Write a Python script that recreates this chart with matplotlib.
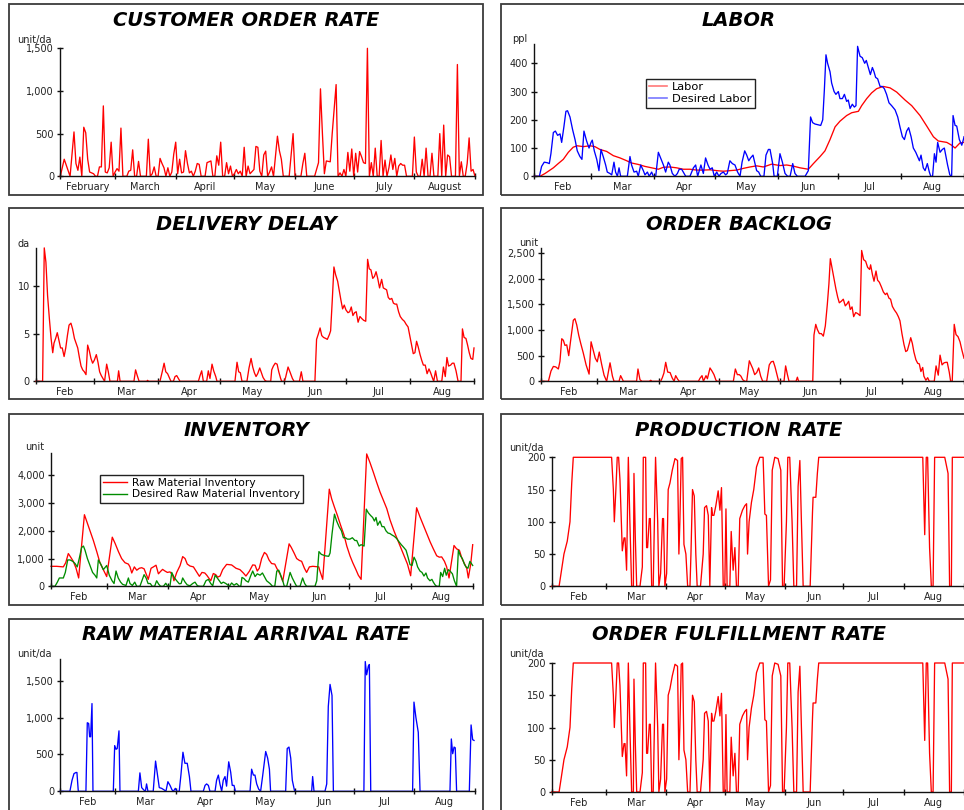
import matplotlib
matplotlib.use("Agg")
import matplotlib.pyplot as plt
from matplotlib.lines import Line2D
from matplotlib.patches import Rectangle
from matplotlib.ticker import FixedLocator, FuncFormatter, NullFormatter

W, H = 964, 810

# time axis in days, day 0 = Feb 1, day 212 = end of Aug 31
month_edges = [0, 28, 59, 89, 120, 150, 181, 212]
month_long = ["February", "March", "April", "May", "June", "July", "August"]
month_short = ["Feb", "Mar", "Apr", "May", "Jun", "Jul", "Aug"]

# (day, value) pairs for every series
customer_orders = [
    (0, 0), (2, 200), (5, 0), (7, 520), (8, 150), (9, 70), (10, 225), (11, 0), (12, 575), (13, 510),
    (14, 200), (15, 50), (17, 30), (18, 0), (19, 0), (20, 110), (21, 110), (22, 825), (23, 50), (24, 40),
    (25, 100), (26, 400), (27, 0), (28, 50), (29, 90), (30, 60), (31, 565), (32, 0), (34, 0), (35, 60),
    (36, 70), (37, 310), (38, 0), (39, 0), (40, 175), (41, 0), (44, 0), (45, 435), (46, 0), (47, 30),
    (48, 110), (49, 0), (50, 0), (51, 210), (52, 150), (53, 100), (54, 0), (55, 100), (56, 0), (57, 50),
    (58, 260), (59, 400), (60, 30), (61, 200), (62, 40), (63, 50), (64, 300), (65, 150), (66, 40), (67, 60),
    (68, 0), (69, 60), (70, 150), (71, 140), (72, 0), (74, 0), (75, 160), (77, 180), (78, 0), (79, 0),
    (80, 240), (81, 130), (82, 400), (83, 0), (84, 0), (85, 160), (86, 30), (87, 120), (88, 0), (89, 30),
    (90, 80), (91, 30), (92, 60), (93, 0), (94, 340), (95, 0), (96, 120), (97, 30), (99, 80), (100, 350),
    (101, 340), (102, 60), (103, 0), (104, 250), (105, 295), (106, 0), (107, 50), (108, 110), (109, 0),
    (111, 470), (112, 300), (113, 200), (114, 0), (117, 0), (119, 500), (120, 0), (123, 0), (124, 150),
    (125, 270), (126, 0), (130, 0), (132, 160), (133, 1025), (134, 500), (135, 30), (136, 180), (138, 170),
    (139, 500), (141, 1075), (142, 0), (143, 40), (144, 0), (145, 80), (146, 0), (147, 280), (148, 60),
    (149, 320), (150, 0), (151, 270), (152, 50), (153, 290), (154, 230), (155, 160), (156, 150), (157, 1500),
    (158, 0), (159, 160), (160, 0), (161, 330), (162, 0), (163, 0), (164, 420), (165, 0), (166, 190),
    (167, 0), (168, 100), (169, 250), (170, 80), (171, 210), (172, 0), (173, 120), (174, 150), (175, 130),
    (176, 130), (177, 0), (180, 0), (181, 460), (182, 50), (183, 0), (184, 0), (185, 200), (186, 0),
    (187, 330), (188, 0), (189, 0), (190, 270), (191, 0), (193, 0), (194, 500), (195, 0), (196, 600),
    (197, 0), (198, 250), (199, 230), (200, 0), (202, 0), (203, 1310), (204, 0), (205, 170), (206, 0),
    (207, 0), (208, 150), (209, 450), (210, 60), (211, 80), (212, 0),
]

labor = [
    (0, 0), (2.8, 0), (5.3, 10), (9.4, 30), (11.8, 45), (14.3, 60), (16.8, 85), (19.2, 103), (21.2, 108),
    (24.2, 105), (27.5, 108), (29.9, 105), (32.4, 95), (35.7, 88), (39, 73), (42.3, 65), (45.6, 55),
    (48, 47), (51.3, 42), (54.6, 35), (57.9, 30), (61.2, 25), (63.7, 32), (66.9, 33), (70.2, 30),
    (73.5, 25), (76.8, 25), (80.1, 22), (83.4, 22), (86.7, 23), (90, 20), (93.3, 18), (96.5, 20),
    (99.8, 22), (103.1, 28), (106.4, 33), (109.7, 37), (113, 33), (117.1, 43), (121.2, 38), (124.5, 40),
    (127.8, 36), (131.1, 30), (135.2, 25), (137.7, 45), (141, 70), (143.4, 90), (145.9, 130), (148.4, 175),
    (150.8, 195), (154.1, 215), (156.6, 225), (159.9, 230), (161.5, 250), (164, 275), (166.4, 295),
    (168.9, 310), (172.2, 318), (175.5, 313), (178.8, 298), (182.9, 270), (186.2, 250), (190.3, 215),
    (193.6, 178), (196.9, 140), (199.3, 125), (203.5, 120), (205.9, 110), (207.6, 100), (210, 118),
    (212, 120),
]

desired_labor = [
    (0, 0), (2.5, 0), (3.6, 35), (4.9, 50), (6.4, 48), (7.4, 45), (8.2, 80), (9.4, 155), (10.4, 160),
    (11.5, 145), (12.7, 150), (13.5, 120), (14.6, 175), (15.6, 230), (16.4, 232), (17.6, 210), (18.9, 165),
    (20.1, 130), (21.2, 90), (22.5, 70), (23.5, 60), (24.5, 160), (25.8, 125), (27, 100), (28, 120),
    (28.6, 128), (29.6, 90), (30.8, 60), (31.9, 20), (32.9, 95), (34, 70), (35.2, 40), (36, 15), (37.3, 10),
    (38.2, 5), (39.3, 50), (40.1, 15), (41, 0), (41.8, 30), (42.6, 0), (45.9, 0), (47.2, 70), (48, 40),
    (49.2, 15), (50.5, 18), (51.3, 0), (52.5, 40), (53.8, 20), (54.6, 5), (55.8, 15), (56.7, 0), (57.9, 15),
    (58.7, 0), (59.9, 0), (61.2, 85), (62.3, 65), (63.7, 40), (64.8, 15), (66.1, 50), (66.9, 40), (68.1, 10),
    (69.4, 0), (70.6, 10), (71.5, 25), (72.7, 25), (73.5, 15), (74.7, 0), (76.8, 0), (78.5, 30), (79.6, 40),
    (80.6, 0), (82.2, 40), (83.4, 10), (84.5, 65), (85.7, 40), (86.7, 25), (87.8, 30), (88.8, 0), (90, 15),
    (91.1, 0), (92.1, 10), (93.3, 15), (94.4, 5), (95.2, 10), (96.5, 55), (97.7, 45), (99, 40), (100.3, 15),
    (101.5, 0), (102.5, 50), (103.8, 90), (104.8, 75), (105.8, 55), (106.7, 65), (107.9, 75), (108.9, 45),
    (109.7, 20), (110.7, 15), (111.7, 0), (113.3, 0), (114.3, 75), (115.5, 95), (116.3, 95), (117.6, 45),
    (118.3, 0), (119.9, 0), (121.2, 80), (122.4, 50), (123.7, 10), (125, 0), (126.2, 0), (127.5, 45),
    (128.6, 10), (129.8, 0), (133.6, 0), (135.2, 20), (136.3, 210), (137.3, 190), (138.5, 185), (140.1, 182),
    (141.3, 180), (142.3, 200), (143.1, 305), (143.9, 430), (144.7, 400), (145.9, 370), (146.7, 330),
    (147.9, 300), (148.8, 290), (150, 300), (150.8, 275), (152, 275), (153, 290), (154.1, 265), (154.9, 270),
    (155.8, 240), (156.9, 255), (157.9, 245), (158.7, 250), (159.5, 460), (160.7, 425), (161.8, 420),
    (163, 400), (163.8, 410), (164.8, 385), (165.8, 360), (166.8, 385), (167.6, 370), (168.4, 350),
    (169.4, 345), (170.6, 318), (171.7, 318), (172.7, 310), (173.8, 290), (175, 260), (176.3, 250),
    (178, 235), (179.3, 210), (180.4, 175), (181.6, 140), (182.6, 130), (183.7, 160), (184.7, 172),
    (185.9, 140), (187, 100), (188.2, 85), (189.1, 70), (190, 55), (190.8, 75), (191.9, 30), (192.8, 20),
    (193.9, 45), (194.9, 15), (195.6, 0), (196.5, 0), (197.4, 80), (198.2, 50), (199, 120), (200.2, 85),
    (201.3, 95), (202.3, 100), (203.1, 70), (203.9, 40), (205, 5), (205.9, 0), (206.6, 215), (207.6, 180),
    (208.4, 178), (209.7, 130), (210.9, 110), (211.7, 130), (212, 140),
]

delivery_delay = [
    (0, 0), (3.2, 0), (4, 14), (4.8, 12.5), (5.6, 9), (6.5, 6.5), (7.3, 4.5), (8.1, 3), (8.7, 4), (9.5, 4.5),
    (10.3, 5.1), (11.1, 4.3), (11.9, 3.5), (12.7, 3.5), (13.6, 2.6), (14.4, 3.5), (15.2, 4.8), (16, 5.9),
    (16.9, 6.1), (17.7, 5.5), (18.6, 4.5), (19.4, 4), (20.2, 3.5), (21, 2.5), (21.8, 1.6), (22.6, 1.2),
    (23.4, 1), (24.2, 0.7), (25, 3.8), (25.8, 3.2), (26.6, 2.4), (27.4, 1.9), (28.2, 2.2), (29.2, 2.8),
    (30, 2), (30.8, 1), (31.6, 0.6), (32.4, 0.3), (33.2, 0), (34.2, 1.8), (35, 1), (35.8, 0), (39.4, 0),
    (40, 1.1), (40.7, 0), (47.4, 0), (48.2, 1.2), (49, 0.6), (49.9, 0), (53.6, 0), (54, 0.1), (54.5, 0),
    (60, 0), (61.1, 1), (62, 1.9), (62.8, 1), (63.7, 0.8), (64.5, 0.4), (65.3, 0), (66.5, 0), (67.3, 0.5),
    (68.1, 0.6), (68.9, 0.3), (69.7, 0), (78.6, 0), (79.4, 0.6), (80.2, 1.1), (81, 0), (82.6, 0), (83.4, 1.1),
    (84.2, 0.3), (85.2, 1.8), (86, 1.1), (87, 0.5), (87.6, 0), (96.3, 0), (97.3, 2), (98.1, 1), (98.9, 0.9),
    (99.7, 0), (102.1, 0), (103.1, 1.4), (104.1, 2.4), (104.9, 1.5), (105.7, 0.9), (106.5, 0.5), (107.3, 0.8),
    (108.3, 1.4), (109.1, 0.9), (109.9, 0.4), (110.8, 0.1), (111.6, 0), (113.6, 0), (114.1, 1.2),
    (114.9, 1.6), (115.8, 1.9), (116.7, 1.8), (117.5, 1), (118.4, 0.3), (118.9, 0), (120.2, 0), (120.8, 0.4),
    (122, 1.5), (122.9, 1), (124.1, 0.3), (124.9, 0), (127.5, 0), (128.4, 1), (129.2, 0), (135, 0),
    (135.8, 4.4), (136.7, 5), (137.5, 5.6), (138.3, 4.8), (139.2, 4.6), (140.2, 4.5), (141, 4.4), (142, 4.9),
    (142.6, 5.3), (143.4, 8.5), (144.2, 12), (145, 11.2), (146, 10.5), (146.8, 9.5), (147.6, 8.5),
    (148.4, 7.6), (149.2, 8), (150, 7.5), (151, 7.2), (151.8, 7.3), (152.6, 7.8), (153.4, 6.9), (154.2, 7.2),
    (155, 7.3), (155.9, 6.2), (156.8, 6.8), (157.6, 6.6), (158.6, 6.4), (159.6, 6.3), (160.5, 12.8),
    (161.3, 11.8), (162.1, 11.7), (163, 10.8), (163.8, 11), (164.6, 11.5), (165.4, 10.8), (166.3, 9.8),
    (167.3, 10.7), (168.1, 9.8), (168.9, 9.7), (169.7, 9.6), (170.5, 8.8), (171.3, 8.6), (172.2, 8.7),
    (173, 8.2), (173.8, 8.1), (174.6, 8.1), (175.5, 7.3), (176.3, 6.8), (177.3, 6.5), (178.3, 6.3),
    (179.1, 6), (180.1, 5.7), (180.9, 4.8), (181.8, 3.8), (182.6, 2.9), (183.4, 3), (184.2, 4.2), (185, 3.6),
    (185.9, 2.8), (186.7, 2.2), (187.5, 1.7), (188.4, 1.7), (189.3, 0.8), (190.2, 1.3), (191, 0.9),
    (191.8, 0.4), (192.5, 0), (193.4, 1.1), (194.3, 0), (196.4, 0), (197.2, 1.5), (198.1, 0.5), (198.9, 2.5),
    (199.7, 1.6), (200.7, 1.7), (201.5, 1.9), (202.3, 1.9), (203.3, 1.1), (204.3, 0), (205.7, 0),
    (206.4, 5.5), (207.2, 4.6), (208.1, 4.5), (208.9, 3.8), (209.7, 3), (210.5, 2.4), (211.4, 2.3),
    (212, 3.5),
]

order_backlog = [
    (0, 0), (3.7, 0), (5, 200), (6.2, 290), (7.4, 280), (8.7, 240), (9.5, 390), (10.4, 830), (11.2, 800),
    (12, 700), (12.9, 710), (13.9, 500), (14.9, 810), (16.2, 1190), (17, 1220), (17.9, 1100), (18.9, 900),
    (19.9, 740), (21.2, 550), (22.6, 320), (24.1, 140), (25.1, 770), (26.2, 600), (27.2, 450), (28.2, 380),
    (29.2, 570), (30.4, 330), (31.6, 120), (32.9, 0), (34.6, 360), (35.8, 100), (36.6, 0), (39.1, 0),
    (39.9, 110), (41.3, 0), (47.9, 0), (48.6, 240), (49.6, 30), (50.6, 0), (54.3, 0), (55, 20), (55.6, 0),
    (60, 0), (60.8, 70), (61.6, 160), (62.5, 370), (63.5, 180), (64.7, 170), (65.7, 70), (66.7, 0),
    (67.5, 110), (68.5, 40), (69.3, 0), (78.9, 0), (79.7, 60), (80.7, 110), (81.4, 0), (82.7, 110),
    (83.4, 50), (84.7, 260), (85.7, 200), (86.7, 130), (87.7, 20), (88.4, 0), (96.4, 0), (97.4, 240),
    (98.4, 130), (99.4, 130), (100.2, 100), (101.1, 30), (102.2, 0), (103.1, 0), (104.4, 400), (105.2, 330),
    (106.1, 250), (107.1, 130), (108.1, 170), (109.1, 260), (110.1, 100), (111.1, 0), (113.1, 0),
    (114.4, 320), (115.4, 380), (116.4, 390), (117.3, 280), (118.3, 120), (119.1, 0), (121.8, 0),
    (122.6, 300), (123.5, 130), (124.3, 0), (127.8, 0), (128.5, 80), (129.1, 0), (136.2, 0), (136.8, 900),
    (137.7, 1110), (138.5, 1010), (139.5, 930), (140.5, 930), (141.5, 880), (142.5, 1080), (143.5, 1500),
    (144.3, 1900), (145, 2390), (146, 2180), (147, 1960), (147.8, 1800), (148.7, 1640), (149.5, 1530),
    (150.5, 1560), (151.5, 1600), (152.5, 1470), (153.4, 1510), (154.2, 1560), (155, 1400), (155.9, 1450),
    (156.7, 1260), (157.7, 1340), (158.7, 1320), (159.9, 1280), (160.7, 2550), (161.7, 2370), (162.7, 2340),
    (163.7, 2220), (164.7, 2180), (165.2, 2270), (166.1, 2080), (166.9, 1950), (167.9, 2150), (168.7, 1970),
    (169.6, 1930), (170.6, 1840), (171.6, 1740), (172.6, 1690), (173.4, 1720), (174.4, 1620), (175.2, 1600),
    (176.1, 1460), (177.1, 1390), (178.2, 1330), (179.1, 1260), (179.9, 1180), (180.9, 930), (181.9, 720),
    (182.8, 580), (183.6, 600), (184.6, 740), (185.3, 850), (186.1, 740), (186.9, 570), (187.9, 420),
    (188.8, 350), (189.6, 340), (190.4, 190), (191.3, 270), (191.9, 100), (192.9, 20), (193.8, 70),
    (194.6, 0), (197.1, 0), (198, 300), (199.1, 120), (200, 510), (201, 320), (202, 360), (203, 370),
    (203.6, 370), (204.6, 180), (205.3, 0), (206.1, 0), (207.1, 1110), (208, 910), (209, 870), (210, 770),
    (211, 600), (212, 450),
]

raw_inventory = [
    (0, 720), (2.8, 720), (6.2, 700), (7.4, 850), (8.7, 1180), (9.9, 1050), (11.2, 900), (12.6, 650),
    (13.9, 300), (16.8, 2580), (17.9, 2350), (19.6, 2000), (21.3, 1650), (23, 1250), (24.6, 850), (26.3, 600),
    (28, 350), (30.8, 1770), (32.2, 1550), (33.9, 1250), (35.5, 1000), (37.2, 850), (38.9, 800), (39.7, 700),
    (40.6, 480), (41.9, 700), (43.1, 580), (44.4, 650), (45.6, 670), (46.8, 630), (47.8, 450), (48.9, 250),
    (50.3, 650), (51.5, 700), (52.8, 760), (54, 450), (55, 530), (56.1, 610), (57.3, 550), (58.5, 500),
    (59.8, 520), (61.2, 400), (61.8, 200), (63.2, 500), (64.9, 750), (66.2, 1070), (67.4, 1000), (68.5, 800),
    (69.9, 730), (71.6, 700), (73.2, 520), (74.6, 360), (75.9, 500), (77.3, 480), (78.3, 400), (79.3, 300),
    (80.3, 200), (81.6, 460), (82.8, 420), (83.8, 330), (85, 370), (86.3, 600), (88.3, 790), (90.8, 770),
    (93, 650), (95, 600), (96.7, 480), (98, 370), (99.7, 540), (101.4, 770), (102.6, 760), (103.7, 550),
    (104.7, 650), (105.9, 1000), (107.3, 1220), (108.4, 1150), (109.6, 950), (110.9, 820), (112.5, 800),
    (113.5, 650), (115.1, 450), (116.5, 180), (119.7, 1530), (120.8, 1400), (122.2, 1200), (123.5, 1000),
    (124.9, 930), (126, 900), (127.4, 650), (128.5, 500), (129.9, 700), (131.6, 720), (134.6, 700),
    (135.2, 550), (136.6, 250), (139.9, 3500), (141.1, 3150), (142.5, 2850), (144, 2550), (145.6, 2200),
    (147.3, 1850), (148.7, 1450), (150.3, 1100), (151.7, 850), (153.3, 600), (154.5, 400), (155.9, 250),
    (158.7, 4770), (160.4, 4450), (162.1, 4100), (163.7, 3750), (165.4, 3400), (167.1, 3100), (168.8, 2800),
    (170.4, 2400), (172.4, 2000), (174.1, 1700), (175.8, 1400), (177.5, 1100), (179.2, 800), (180.8, 380),
    (183.8, 2830), (185.5, 2500), (187.2, 2200), (188.9, 1900), (190.6, 1600), (192.2, 1350), (193.9, 1100),
    (195.2, 1050), (196.4, 1060), (197.8, 900), (198.9, 700), (200.1, 300), (202.6, 1470), (203.9, 1350),
    (205.3, 1300), (206.6, 1000), (208, 800), (209, 650), (209.8, 300), (211, 800), (212, 1500),
]

desired_inventory = [
    (0, 0), (2, 0), (3.2, 150), (4.2, 300), (6.2, 300), (7.2, 500), (8.4, 950), (9.6, 950), (10.9, 900),
    (12.1, 820), (13.2, 700), (14.2, 1000), (15.4, 1400), (16.3, 1450), (17.1, 1300), (18.3, 1000),
    (19.6, 750), (20.9, 500), (22.1, 400), (23, 300), (23.8, 950), (25, 800), (26.3, 600), (28, 750),
    (29.3, 400), (30.7, 200), (31.7, 100), (32.7, 550), (33.8, 300), (35, 150), (36, 70), (37.7, 30),
    (38.9, 300), (39.7, 100), (40.9, 30), (42.1, 150), (43.1, 0), (44.7, 0), (46.8, 420), (47.8, 300),
    (48.8, 100), (49.9, 100), (50.9, 0), (52.1, 0), (53.1, 200), (54.1, 80), (55.1, 0), (56.5, 0),
    (57.7, 110), (58.5, 20), (59.8, 0), (60.7, 500), (61.8, 330), (63.2, 200), (64.5, 90), (65.4, 100),
    (66.2, 300), (67.4, 150), (68.5, 50), (69.9, 20), (71.2, 100), (72.4, 150), (73.6, 20), (74.9, 0),
    (76.6, 0), (77.9, 200), (79.1, 250), (80.3, 100), (81.3, 20), (82.5, 400), (83.6, 300), (84.6, 200),
    (85.6, 100), (86.6, 150), (87.9, 100), (88.8, 50), (89.7, 0), (90.8, 120), (92, 40), (93.3, 100),
    (94.7, 0), (95.4, 0), (96, 320), (97, 280), (98, 200), (99.2, 150), (100.4, 380), (101.4, 550),
    (102.6, 350), (103.7, 450), (105.1, 400), (106.3, 480), (107.3, 350), (108.4, 200), (110.1, 100),
    (111.4, 0), (112.5, 0), (113.5, 550), (114.5, 580), (115.5, 400), (116.5, 200), (117.3, 0), (118.5, 0),
    (120.2, 500), (121.3, 300), (122.7, 100), (123.5, 0), (125.2, 0), (126.5, 300), (127.5, 100), (128.5, 0),
    (132.7, 0), (133.6, 200), (134.7, 1250), (135.9, 1150), (137.8, 1100), (139.6, 1080), (140.3, 1200),
    (141.3, 1900), (142.5, 2600), (143.6, 2350), (144.8, 2150), (146, 2000), (147, 1750), (148, 1750),
    (149, 1700), (150.3, 1700), (151.5, 1750), (152.8, 1650), (153.7, 1650), (154.9, 1450), (155.9, 1500),
    (157.4, 1450), (158.5, 2780), (159.5, 2650), (160.7, 2550), (161.7, 2480), (162.6, 2350), (163.4, 2480),
    (164.2, 2200), (165.4, 2350), (166.4, 2150), (167.4, 2150), (168.4, 2000), (169.4, 1920), (170.4, 1900),
    (171.4, 1850), (172.6, 1800), (173.8, 1720), (175, 1600), (176.1, 1500), (177.1, 1420), (178.5, 1300),
    (179.5, 1050), (180.5, 780), (181.5, 750), (182.5, 1050), (183.5, 900), (184.3, 700), (185.5, 550),
    (186.5, 500), (187.5, 370), (188.5, 480), (189.3, 300), (190.5, 200), (191.5, 250), (192.2, 150),
    (193.1, 50), (193.9, 0), (195.2, 0), (195.9, 500), (196.9, 350), (197.9, 650), (198.7, 400), (199.8, 600),
    (200.6, 550), (201.8, 450), (202.8, 200), (203.9, 0), (204.8, 1300), (205.8, 1100), (206.8, 1000),
    (207.8, 800), (208.6, 700), (209.6, 650), (210.6, 900), (212, 750),
]

production_rate = [
    (0, 0), (3.8, 0), (4.8, 20), (6.3, 50), (8, 70), (9.4, 100), (10.3, 160), (11.1, 200), (30.8, 200),
    (31.7, 150), (32.2, 100), (33, 150), (33.7, 200), (34.4, 200), (35.1, 165), (36.3, 55), (37.2, 75),
    (37.7, 75), (38.5, 25), (39.4, 200), (40.2, 100), (41.1, 0), (42, 0), (42.3, 175), (43, 75), (43.7, 0),
    (45.4, 0), (46.6, 30), (47.1, 200), (48.3, 200), (48.8, 60), (49.3, 60), (50.2, 105), (50.7, 105),
    (51.4, 0), (52.2, 0), (53.4, 200), (54.5, 100), (55.1, 0), (56, 20), (57, 105), (57.5, 105), (58.2, 0),
    (59.1, 20), (59.9, 150), (60.8, 160), (62, 180), (63.4, 198), (64.7, 195), (65.4, 50), (65.9, 100),
    (66.6, 198), (67.3, 200), (68, 65), (69, 50), (69.9, 0), (71.1, 0), (71.6, 50), (72.4, 150), (73.3, 140),
    (74.1, 50), (74.8, 0), (76.5, 0), (77.9, 50), (78.6, 122), (79.6, 125), (80.5, 110), (81.3, 0),
    (82.2, 122), (82.7, 110), (83.4, 110), (84.4, 125), (84.9, 135), (85.6, 148), (86.5, 118), (87.3, 153),
    (88.2, 0), (89, 0), (89.6, 120), (90.2, 0), (91.6, 0), (92.3, 85), (93.3, 25), (94.2, 60), (95, 0),
    (95.9, 0), (96.7, 105), (98.1, 118), (99.3, 125), (100.2, 128), (100.7, 50), (101.5, 100), (102.7, 130),
    (103.9, 150), (105.3, 185), (107, 200), (108.7, 200), (109.6, 112), (110.4, 110), (111.5, 0),
    (112.5, 10), (113.4, 180), (114.7, 200), (116.4, 198), (117.8, 180), (118.7, 0), (119.5, 0), (120.7, 100),
    (121.4, 200), (122.4, 200), (123.6, 100), (124.5, 0), (125.9, 0), (126.7, 155), (127.6, 195),
    (128.4, 100), (129.3, 0), (132.9, 0), (134.1, 115), (134.4, 138), (135.8, 138), (136.6, 175),
    (137.3, 200), (190.8, 200), (191.8, 80), (192.6, 200), (193.3, 200), (194.3, 60), (195.2, 0), (196.1, 0),
    (196.9, 200), (202.1, 200), (203.8, 175), (204.6, 0), (205.5, 0), (206, 200), (212, 200),
]

# fulfillment follows production day for day
order_fulfillment = list(production_rate)

raw_arrivals = [
    (0, 0), (4.9, 0), (6, 150), (7, 240), (8, 255), (8.5, 255), (9.2, 0), (13.1, 0), (13.8, 930), (14.5, 920),
    (15, 740), (15.5, 740), (16.2, 1190), (16.7, 0), (27.1, 0), (27.8, 620), (28.5, 570), (29.1, 580),
    (30, 820), (30.5, 0), (39.9, 0), (40.7, 250), (41.6, 50), (42.6, 20), (43.5, 0), (44.1, 100), (44.8, 0),
    (47.5, 0), (48.7, 410), (49.8, 200), (50.6, 50), (51.8, 40), (53, 20), (54, 0), (55, 130), (56.1, 80),
    (57.1, 20), (57.8, 0), (58.8, 40), (59.6, 0), (60.8, 0), (61.7, 230), (62.7, 530), (63.7, 380),
    (64.9, 380), (66, 200), (66.8, 0), (73.1, 0), (74, 80), (74.8, 100), (75.7, 80), (76.5, 0), (79.1, 0),
    (79.9, 150), (80.8, 220), (81.6, 100), (82.5, 0), (83.3, 150), (84.2, 200), (85, 70), (86.1, 400),
    (87.1, 260), (87.9, 80), (88.8, 80), (89.5, 0), (97, 0), (97.8, 300), (98.7, 220), (99.5, 220),
    (100.4, 100), (101.4, 30), (102.4, 0), (103.4, 200), (105, 540), (106, 450), (106.9, 300), (107.5, 0),
    (115.2, 0), (116, 580), (116.9, 600), (117.8, 450), (118.6, 150), (119.8, 0), (128.5, 0), (129, 200),
    (129.7, 0), (135.3, 0), (136.2, 100), (137, 1150), (137.9, 1450), (138.9, 1300), (139.6, 0), (155.2, 0),
    (155.9, 1760), (156.6, 1580), (157.5, 1700), (158, 1720), (158.7, 0), (180.1, 0), (180.8, 1210),
    (181.8, 1000), (183, 800), (183.9, 0), (199.2, 0), (199.9, 710), (200.6, 510), (201.3, 600), (201.9, 590),
    (202.6, 0), (209.1, 0), (210, 900), (210.8, 700), (211.5, 690),
]

RED = "#ff0000"
BLUE = "#0000ff"
GREEN = "#008c00"
TICK_FS = 7

fig = plt.figure(figsize=(W / 100, H / 100), dpi=100)


def frame(x0, y0, x1, y1):
    fig.patches.append(Rectangle((x0 / W, 1 - y1 / H), (x1 - x0) / W, (y1 - y0) / H,
                                 transform=fig.transFigure, fill=False,
                                 ec="#3c3c3c", lw=1.3, zorder=0))


def label(x, y, s, **kw):
    fig.text(x / W, 1 - y / H, s, **kw)


def panel(box, ymax, yticks, months):
    x0, x1, ytop, ybot = box
    ax = fig.add_axes([x0 / W, 1 - ybot / H, (x1 - x0) / W, (ybot - ytop) / H])
    ax.set_xlim(0, 212)
    ax.set_ylim(0, ymax)
    ax.patch.set_visible(False)
    for side in ("top", "right"):
        ax.spines[side].set_visible(False)
    for side in ("left", "bottom"):
        ax.spines[side].set_color("#111111")
        ax.spines[side].set_linewidth(1.0)
    ax.yaxis.set_major_locator(FixedLocator(yticks))
    ax.yaxis.set_major_formatter(FuncFormatter(lambda v, p: f"{v:,.0f}"))
    ax.xaxis.set_major_locator(FixedLocator(month_edges))
    ax.xaxis.set_major_formatter(NullFormatter())
    mids = [(a + b) / 2 for a, b in zip(month_edges[:-1], month_edges[1:])]
    ax.xaxis.set_minor_locator(FixedLocator(mids))
    ax.set_xticklabels(months, minor=True)
    ax.tick_params(axis="both", which="major", direction="inout", length=5, width=1.0,
                   color="#111111", labelsize=TICK_FS, labelcolor="#222222", pad=2)
    ax.tick_params(axis="x", which="minor", length=0, labelsize=TICK_FS,
                   labelcolor="#222222", pad=4)
    return ax


def series(ax, pts, color):
    days = [p[0] for p in pts]
    vals = [p[1] for p in pts]
    ax.plot(days, vals, color=color, lw=0.95, clip_on=False)


# panel frames: two columns, four rows
col_x = [(8.5, 483.5), (501, 976)]
row_y = [(4, 195), (208.5, 399.5), (413.5, 604.5), (618.5, 812)]
for fx0, fx1 in col_x:
    for fy0, fy1 in row_y:
        frame(fx0, fy0, fx1, fy1)

title_kw = dict(fontsize=14, fontweight="bold", fontstyle="italic",
                ha="center", va="center", color="black")
unit_kw = dict(fontsize=TICK_FS, ha="left", va="center", color="#222222")
centers = [(col_x[0][0] + col_x[0][1]) / 2, (col_x[1][0] + col_x[1][1]) / 2]

# customer order rate
ax = panel((60.3, 475, 48.3, 176.3), 1500, [0, 500, 1000, 1500], month_long)
series(ax, customer_orders, RED)
label(centers[0], 20.5, "CUSTOMER ORDER RATE", **title_kw)
label(17.5, 39.5, "unit/da", **unit_kw)

# labor
ax = panel((534.3, 964, 43.5, 176.3), 470, [0, 100, 200, 300, 400], month_short)
series(ax, labor, RED)
series(ax, desired_labor, BLUE)
label(centers[1], 20.5, "LABOR", **title_kw)
label(512.5, 39.5, "ppl", **unit_kw)
handles = [Line2D([], [], color="#ff7878", lw=1.2), Line2D([], [], color="#7878ff", lw=1.2)]
ax.legend(handles, ["Labor", "Desired Labor"], loc="upper left",
          bbox_to_anchor=(646 / W, 1 - 79 / H), bbox_transform=fig.transFigure,
          fancybox=False, edgecolor="#222222", framealpha=1, fontsize=8.2,
          borderpad=0.3, handlelength=1.5, handletextpad=0.5, labelspacing=0.15,
          borderaxespad=0).get_frame().set_linewidth(1.0)

# delivery delay
ax = panel((36, 474, 247.9, 381.3), 14, [0, 5, 10], month_short)
series(ax, delivery_delay, RED)
label(centers[0], 225, "DELIVERY DELAY", **title_kw)
label(17, 244, "da", **unit_kw)

# order backlog
ax = panel((541, 964, 247.9, 381.3), 2600, [0, 500, 1000, 1500, 2000, 2500], month_short)
series(ax, order_backlog, RED)
label(centers[1], 225, "ORDER BACKLOG", **title_kw)
label(519, 243.5, "unit", **unit_kw)

# inventory
ax = panel((51, 472.7, 453.1, 586.3), 4800, [0, 1000, 2000, 3000, 4000], month_short)
series(ax, raw_inventory, RED)
series(ax, desired_inventory, GREEN)
label(centers[0], 430, "INVENTORY", **title_kw)
label(25, 447, "unit", **unit_kw)
handles = [Line2D([], [], color=RED, lw=1.0), Line2D([], [], color=GREEN, lw=1.0)]
ax.legend(handles, ["Raw Material Inventory", "Desired Raw Material Inventory"], loc="upper left",
          bbox_to_anchor=(100 / W, 1 - 474.5 / H), bbox_transform=fig.transFigure,
          fancybox=False, edgecolor="#222222", framealpha=1, fontsize=7.7,
          borderpad=0.3, handlelength=2.2, handletextpad=0.5, labelspacing=0.15,
          borderaxespad=0).get_frame().set_linewidth(1.0)

# production rate
ax = panel((551.7, 964, 457.3, 586.3), 200, [0, 50, 100, 150, 200], month_short)
series(ax, production_rate, RED)
label(centers[1], 430, "PRODUCTION RATE", **title_kw)
label(509, 447.5, "unit/da", **unit_kw)

# raw material arrival rate
ax = panel((60.3, 475, 658.6, 791.3), 1800, [0, 500, 1000, 1500], month_short)
series(ax, raw_arrivals, BLUE)
label(centers[0], 635, "RAW MATERIAL ARRIVAL RATE", **title_kw)
label(17.5, 654, "unit/da", **unit_kw)

# order fulfillment rate
ax = panel((551.7, 964, 663, 792), 200, [0, 50, 100, 150, 200], month_short)
series(ax, order_fulfillment, RED)
label(centers[1], 635, "ORDER FULFILLMENT RATE", **title_kw)
label(509, 654, "unit/da", **unit_kw)

fig.savefig("out.png", dpi=100)
